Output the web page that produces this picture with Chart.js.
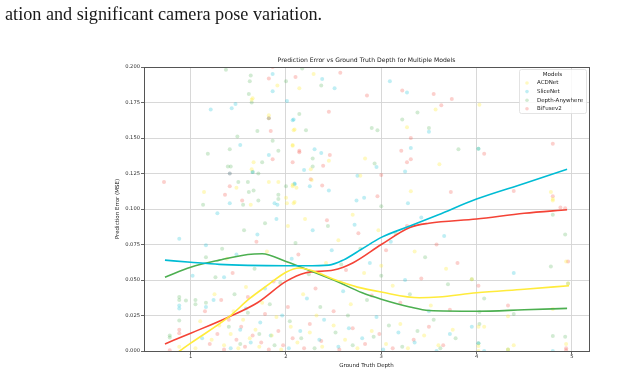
<!DOCTYPE html>
<html><head><meta charset="utf-8">
<script src="https://cdn.jsdelivr.net/npm/chart.js@4.4.0/dist/chart.umd.min.js"></script>
<style>
html,body{margin:0;padding:0;background:#fff;width:625px;height:375px;overflow:hidden}
#wrap{position:absolute;left:0;top:0;width:625px;height:375px}
#hdr{position:absolute;left:5px;top:4px;font-family:"Liberation Serif","DejaVu Serif",serif;font-size:18.2px;color:#1a1a1a;white-space:nowrap}
</style></head><body>
<div id="wrap"><canvas id="c" width="625" height="375"></canvas></div>
<div id="hdr">ation and significant camera pose variation.</div>
<script>
const chartTitle = 'Prediction Error vs Ground Truth Depth for Multiple Models';
const xLabel = 'Ground Truth Depth';
const yLabel = 'Prediction Error (MSE)';
const legendTitle = 'Models';
const models = ['ACDNet', 'SliceNet', 'Depth-Anywhere', 'BiFusev2'];

const acdnetPoints = [[1.91,0.187],[2.29,0.195],[2.14,0.185],[1.64,0.177],[1.65,0.178],[1.82,0.166],[2.09,0.156],[2.07,0.145],[1.66,0.133],[1.64,0.128],[1.82,0.119],[1.92,0.119],[1.14,0.112],[2.07,0.116],[2.11,0.115],[1.48,0.115],[2.01,0.104],[2.09,0.105],[1.63,0.103],[3.57,0.170],[3.27,0.1575],[2.08,0.1555],[2.07,0.1445],[2.83,0.1355],[2.45,0.134],[3.61,0.1315],[2.26,0.128],[2.78,0.1235],[2.27,0.1205],[2.07,0.117],[3.31,0.1125],[2.0,0.108],[2.08,0.104],[4.03,0.1735],[4.78,0.112],[4.80,0.107],[4.80,0.106],[4.94,0.063],[3.95,0.0505],[4.96,0.0475],[4.33,0.0245],[4.80,0.0295],[4.02,0.017],[4.08,0.017],[4.02,0.0035],[4.39,0.004],[4.94,0.005],[4.33,0.001],[4.02,0.0],
[0.88,0.003],[1.05,0.002],[1.22,0.008],[1.3,0.018],[1.35,0.004],[1.42,0.012],[1.45,0.028],[1.5,0.002],[1.55,0.022],[1.58,0.045],[1.62,0.009],[1.68,0.015],[1.72,0.003],[1.75,0.034],[1.8,0.07],[1.85,0.011],[1.9,0.024],[1.95,0.001],[2.02,0.088],[2.05,0.017],[2.12,0.006],[2.18,0.04],[2.2,0.093],[2.25,0.013],[2.32,0.025],[2.38,0.003],[2.42,0.062],[2.5,0.018],[2.55,0.078],[2.62,0.008],[2.68,0.033],[2.75,0.002],[2.82,0.055],[2.9,0.014],[2.97,0.085],[3.05,0.005],[3.12,0.046],[3.2,0.019],[3.28,0.002],[3.35,0.07],[3.45,0.011],[3.52,0.032],[3.6,0.004],[3.68,0.058],[3.75,0.015],[1.38,0.065],[1.25,0.04],[1.1,0.021],[2.7,0.096],[3.0,0.06]];

const slicenetPoints = [[1.86,0.195],[1.86,0.183],[2.01,0.176],[1.21,0.170],[1.43,0.171],[1.47,0.174],[2.08,0.163],[1.52,0.145],[1.82,0.138],[1.65,0.126],[1.41,0.125],[2.09,0.118],[1.88,0.104],[1.91,0.103],[1.41,0.104],[2.38,0.1915],[2.51,0.185],[3.09,0.190],[3.27,0.182],[2.07,0.1625],[3.5,0.1545],[3.31,0.143],[2.30,0.142],[2.37,0.1395],[2.95,0.1295],[2.19,0.1275],[3.25,0.1265],[2.75,0.1235],[2.09,0.1175],[2.25,0.116],[2.45,0.113],[2.82,0.108],[2.74,0.106],[3.28,0.104],[4.02,0.1425],[4.39,0.055],[3.95,0.017],[4.02,0.0055],[4.80,0.0],[4.08,0.0],
[0.88,0.079],[1.16,0.0745],[1.02,0.053],[0.88,0.032],[0.88,0.030],[1.16,0.031],[1.24,0.036],[1.35,0.052],[1.42,0.002],[1.48,0.068],[1.52,0.015],[1.58,0.03],[1.63,0.006],[1.7,0.082],[1.73,0.02],[1.78,0.044],[1.84,0.011],[1.9,0.093],[1.96,0.025],[2.03,0.002],[2.06,0.065],[2.15,0.014],[2.22,0.037],[2.28,0.085],[2.35,0.008],[2.4,0.022],[2.48,0.071],[2.55,0.003],[2.6,0.042],[2.66,0.016],[2.72,0.089],[2.8,0.009],[2.88,0.062],[2.95,0.024],[3.02,0.001],[3.1,0.077],[3.18,0.013],[3.25,0.05],[3.35,0.006],[3.42,0.094],[3.5,0.028],[3.58,0.0],[3.66,0.081],[3.72,0.012],[1.28,0.097],[1.12,0.009]];

const depthAnywherePoints = [[1.37,0.198],[1.63,0.194],[1.62,0.190],[2.0,0.190],[1.61,0.181],[1.64,0.175],[1.82,0.164],[1.70,0.155],[1.49,0.151],[2.14,0.167],[1.86,0.148],[1.41,0.142],[1.92,0.141],[1.18,0.139],[1.75,0.133],[1.39,0.130],[1.42,0.130],[1.65,0.126],[1.71,0.125],[1.5,0.119],[1.6,0.119],[2.0,0.116],[1.61,0.112],[1.66,0.113],[1.92,0.110],[1.92,0.107],[1.71,0.106],[1.13,0.103],[1.55,0.103],[2.17,0.199],[2.37,0.187],[3.38,0.168],[3.22,0.163],[2.90,0.157],[2.96,0.1555],[2.21,0.1555],[3.5,0.157],[3.81,0.142],[2.28,0.1355],[2.93,0.132],[2.28,0.130],[3.0,0.102],[4.02,0.1425],[4.80,0.096],[4.93,0.082],[4.78,0.0595],[3.95,0.0505],[4.96,0.0475],[4.08,0.037],[4.39,0.026],[4.03,0.0275],[4.03,0.019],[4.80,0.0105],[4.93,0.010],[4.02,0.0055],[4.33,0.001],
[1.16,0.066],[1.26,0.052],[0.88,0.038],[0.88,0.036],[0.95,0.0355],[1.05,0.036],[1.05,0.033],[1.16,0.034],[0.88,0.0215],[0.78,0.011],[0.78,0.0095],[1.33,0.072],[1.4,0.017],[1.46,0.04],[1.52,0.005],[1.56,0.085],[1.6,0.027],[1.67,0.058],[1.72,0.012],[1.78,0.09],[1.83,0.033],[1.88,0.004],[1.94,0.048],[2.04,0.021],[2.1,0.076],[2.16,0.009],[2.24,0.054],[2.3,0.002],[2.36,0.031],[2.44,0.088],[2.52,0.013],[2.58,0.061],[2.65,0.025],[2.7,0.004],[2.78,0.072],[2.85,0.036],[2.92,0.01],[3.0,0.053],[3.08,0.018],[3.15,0.083],[3.22,0.003],[3.3,0.04],[3.38,0.014],[3.46,0.066],[3.55,0.022],[3.62,0.002],[3.7,0.047],[3.78,0.009]];

const bifusePoints = [[0.72,0.119],[1.82,0.192],[1.86,0.200],[2.10,0.193],[1.82,0.164],[1.84,0.155],[2.14,0.140],[1.86,0.135],[2.07,0.133],[1.41,0.125],[1.41,0.116],[1.36,0.110],[1.54,0.106],[2.57,0.196],[2.85,0.180],[3.22,0.1835],[3.55,0.181],[3.74,0.1775],[3.63,0.173],[2.45,0.1685],[3.31,0.150],[2.14,0.141],[3.21,0.141],[2.46,0.138],[3.31,0.135],[3.27,0.133],[2.39,0.1305],[3.0,0.124],[2.26,0.121],[2.38,0.1165],[3.73,0.112],[2.96,0.109],[4.08,0.139],[4.80,0.146],[4.39,0.1127],[4.80,0.109],[4.88,0.101],[4.93,0.1005],[4.96,0.063],[4.02,0.046],[4.33,0.032],[4.94,0.002],[4.94,0.0005],
[0.88,0.015],[0.88,0.0125],[0.78,0.0005],[1.32,0.036],[1.15,0.028],[1.2,0.005],[1.28,0.012],[1.35,0.001],[1.4,0.022],[1.44,0.055],[1.48,0.008],[1.53,0.017],[1.57,0.003],[1.6,0.038],[1.65,0.011],[1.69,0.077],[1.74,0.006],[1.78,0.026],[1.82,0.001],[1.87,0.049],[1.92,0.014],[1.97,0.004],[2.02,0.031],[2.07,0.009],[2.13,0.068],[2.19,0.002],[2.25,0.019],[2.31,0.044],[2.37,0.007],[2.43,0.092],[2.5,0.028],[2.56,0.001],[2.63,0.057],[2.7,0.016],[2.76,0.083],[2.83,0.005],[2.9,0.039],[2.98,0.012],[3.05,0.071],[3.12,0.002],[3.2,0.034],[3.27,0.088],[3.34,0.008],[3.42,0.051],[3.5,0.017],[3.58,0.075],[3.65,0.004],[3.72,0.029],[3.8,0.062]];

const acdnetTrend = [[0.73,-0.008],[0.885,0.0],[1.0,0.0055],[1.4,0.024],[1.62,0.037],[1.8,0.046],[2.0,0.0555],[2.14,0.0585],[2.3,0.056],[2.5,0.0505],[2.75,0.045],[3.0,0.0415],[3.4,0.0375],[3.6,0.038],[4.0,0.041],[4.5,0.0435],[4.97,0.046]];
const slicenetTrend = [[0.73,0.064],[1.0,0.0625],[1.3,0.061],[1.6,0.0603],[2.0,0.060],[2.2,0.060],[2.45,0.0605],[2.6,0.064],[2.8,0.072],[3.0,0.080],[3.3,0.088],[3.6,0.096],[4.0,0.107],[4.5,0.118],[4.95,0.128]];
const depthAnywhereTrend = [[0.73,0.052],[1.0,0.059],[1.3,0.064],[1.6,0.068],[1.75,0.0685],[2.0,0.063],[2.2,0.058],[2.5,0.050],[2.8,0.041],[3.0,0.0365],[3.3,0.031],[3.5,0.0285],[4.0,0.028],[4.5,0.029],[4.95,0.030]];
const bifuseTrend = [[0.73,0.005],[1.0,0.0125],[1.4,0.024],[1.7,0.034],[2.0,0.049],[2.2,0.055],[2.5,0.057],[2.7,0.062],[3.0,0.075],[3.3,0.087],[3.5,0.090],[4.0,0.093],[4.5,0.097],[4.95,0.0995]];

const lineColors = ['#ffeb3b', '#00bcd4', '#4caf50', '#f44336'];
const pointColors = ['rgba(255,235,59,0.32)', 'rgba(0,188,212,0.25)', 'rgba(76,175,80,0.25)', 'rgba(244,67,54,0.25)'];
const pointSets = [acdnetPoints, slicenetPoints, depthAnywherePoints, bifusePoints];
const trendSets = [acdnetTrend, slicenetTrend, depthAnywhereTrend, bifuseTrend];

const toXY = arr => arr.map(p => ({x: p[0], y: p[1]}));

const datasets = [];
models.forEach((m, i) => {
  datasets.push({
    type: 'line', label: m + ' trend', data: toXY(trendSets[i]),
    borderColor: lineColors[i], borderWidth: 1.6, pointRadius: 0,
    tension: 0.4, cubicInterpolationMode: 'monotone', fill: false, order: 1
  });
});
models.forEach((m, i) => {
  datasets.push({
    type: 'scatter', label: m, data: toXY(pointSets[i]),
    backgroundColor: pointColors[i], borderWidth: 0, pointRadius: 2, pointStyle: 'circle',
    order: 2
  });
});

const FONT = '"DejaVu Sans", sans-serif';

const framePlugin = {
  id: 'frame',
  afterDatasetsDraw(chart) {
    const {ctx, chartArea: a} = chart;
    ctx.save();
    ctx.strokeStyle = '#555';
    ctx.lineWidth = 1;
    ctx.strokeRect(Math.round(a.left) + 0.5, Math.round(a.top) + 0.5, Math.round(a.right - a.left), Math.round(a.bottom - a.top));
    ctx.restore();
  }
};

const legendPlugin = {
  id: 'boxLegend',
  afterDraw(chart) {
    const {ctx, chartArea: a} = chart;
    const w = 67, h = 44;
    const x0 = a.right - 3 - w, y0 = a.top + 2;
    ctx.save();
    ctx.fillStyle = 'rgba(255,255,255,0.85)';
    ctx.strokeStyle = '#dcdcdc';
    ctx.lineWidth = 0.8;
    ctx.beginPath();
    ctx.roundRect(x0 + 0.5, y0 + 0.5, w, h, 2);
    ctx.fill(); ctx.stroke();
    ctx.fillStyle = '#222';
    ctx.font = '5.5px ' + FONT;
    ctx.textAlign = 'center'; ctx.textBaseline = 'middle';
    ctx.fillText(legendTitle, x0 + w / 2, y0 + 5.5);
    ctx.textAlign = 'left';
    chart.data.datasets.filter(d => d.type === 'scatter').forEach((d, i) => {
      const yy = y0 + 14 + i * 8.6;
      ctx.fillStyle = d.backgroundColor;
      ctx.beginPath(); ctx.arc(x0 + 8, yy, 1.8, 0, Math.PI * 2); ctx.fill();
      ctx.fillStyle = '#222';
      ctx.fillText(d.label, x0 + 18, yy);
    });
    ctx.restore();
  }
};

new Chart(document.getElementById('c'), {
  type: 'scatter',
  data: { datasets },
  plugins: [framePlugin, legendPlugin],
  options: {
    responsive: false, animation: false, devicePixelRatio: 1,
    layout: { padding: { left: 110, right: 36, top: 57, bottom: 0 } },
    plugins: {
      legend: { display: false },
      tooltip: { enabled: false },
      title: {
        display: true, text: chartTitle, fullSize: false,
        color: '#222', font: { family: FONT, size: 6.1, weight: 'normal' },
        padding: { top: 0, bottom: 2.7 }
      }
    },
    scales: {
      x: {
        type: 'linear', min: 0.51, max: 5.18,
        afterFit: (s) => { s.height = 24; },
        border: { display: false },
        grid: { color: '#d4d4d4', lineWidth: 0.9, drawTicks: true, tickLength: 3, tickColor: '#555' },
        ticks: { stepSize: 1, includeBounds: false, padding: 0, color: '#333', font: { family: FONT, size: 5.2 },
          callback: v => String(v) },
        title: { display: true, text: xLabel, color: '#222', font: { family: FONT, size: 5.5 }, padding: { top: 0, bottom: 6 } }
      },
      y: {
        type: 'linear', min: 0, max: 0.2,
        afterFit: (s) => { s.width = 34; },
        border: { display: false },
        grid: { color: '#d4d4d4', lineWidth: 0.9, drawTicks: true, tickLength: 3, tickColor: '#555' },
        ticks: { stepSize: 0.025, padding: 1, color: '#333', font: { family: FONT, size: 5.2 },
          callback: v => Number(v).toFixed(3) },
        title: { display: true, text: yLabel, color: '#222', font: { family: FONT, size: 5.5 }, padding: { top: 4.3, bottom: 0 } }
      }
    }
  }
});
</script>
</body></html>
